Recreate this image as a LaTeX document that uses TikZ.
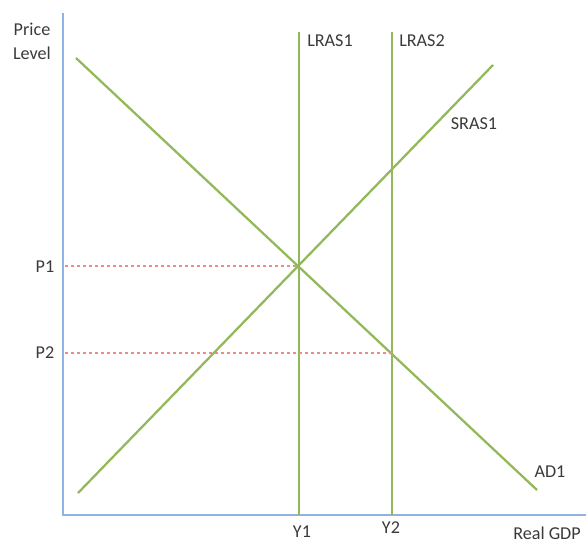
\documentclass[tikz,border=0pt]{standalone}
\usepackage{fontspec}
\setmainfont{Carlito}
\usetikzlibrary{positioning}
\definecolor{cAxis}{HTML}{8EB4E3}
\definecolor{cCurve}{HTML}{92B85A}
\definecolor{cGuide}{HTML}{F08A8A}
\definecolor{cText}{HTML}{3A3A3A}
\tikzset{
  axis/.style={line width=1.6pt,cAxis},
  curve/.style={line width=1.7pt,cCurve},
  guide/.style={line width=.8pt,cGuide,dash pattern=on 2.5pt off 2pt},
  lbl/.style={font=\fontsize{13.6}{18}\selectfont,text=cText,inner sep=0pt,align=center},
}
\begin{document}
\begin{tikzpicture}[x=0.75pt,y=-0.75pt]
  \useasboundingbox (0,0) rectangle (586,543);
  % axes
  \coordinate (o) at (63,515);
  \coordinate (ytop) at (63,13);
  \coordinate (xend) at (586,515);
  \draw[axis] (ytop) -- (o) -- (xend);
  % curves
  \coordinate (ad0) at (76,58);
  \coordinate (ad1) at (537,490);
  \coordinate (sr0) at (78,493);
  \coordinate (sr1) at (493,65);
  \coordinate (lr1top) at (299,32);
  \coordinate (lr1bot) at (299,515);
  \coordinate (lr2top) at (392,32);
  \coordinate (lr2bot) at (392,515);
  \draw[curve] (lr1top) -- (lr1bot);
  \draw[curve] (lr2top) -- (lr2bot);
  \draw[curve] (ad0) -- (ad1);
  \draw[curve] (sr0) -- (sr1);
  % price guides
  \coordinate (e1) at (299,266);
  \coordinate (e2) at (392,353);
  \coordinate (p1ax) at (65,266);
  \coordinate (p2ax) at (65,353);
  \draw[guide] (p1ax) -- (e1);
  \draw[guide] (p2ax) -- (e2);
  % labels
  \node[lbl] (ylab) at (32,41) {Price\\Level};
  \node[lbl] (p1) at (45,267) {P1};
  \node[lbl] (p2) at (45,353) {P2};
  \node[lbl] (y1) at (302,532) {Y1};
  \node[lbl] (y2) at (391,528) {Y2};
  \node[lbl] (xlab) at (547,533) {Real GDP};
  \node[lbl] (lras1) at (330,41) {LRAS1};
  \node[lbl] (lras2) at (422,41) {LRAS2};
  \node[lbl] (sras1) at (474,124) {SRAS1};
  \node[lbl] (ad) at (550,472) {AD1};
\end{tikzpicture}
\end{document}
